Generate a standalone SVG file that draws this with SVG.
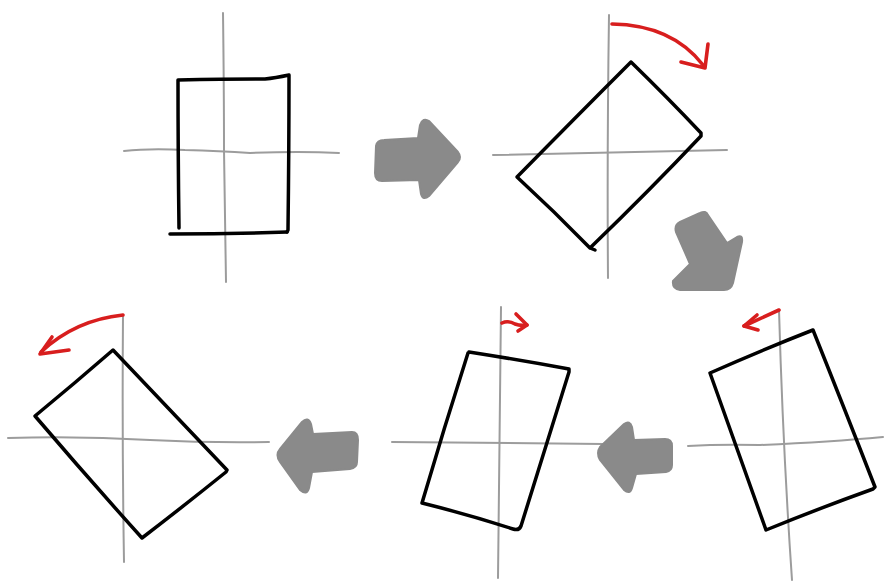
<svg xmlns="http://www.w3.org/2000/svg" width="885" height="581" viewBox="0 0 885 581">
<style>
.axis{fill:none;stroke:#9c9c9c;stroke-width:2;stroke-linecap:round;stroke-linejoin:round}
.box{fill:none;stroke:#000;stroke-width:3.5;stroke-linecap:round;stroke-linejoin:round}
.rot{fill:none;stroke:#d81e1e;stroke-width:3.6;stroke-linecap:round;stroke-linejoin:round}
.step{fill:#8a8a8a;stroke:#8a8a8a;stroke-width:2;stroke-linejoin:round}
</style>
<rect width="885" height="581" fill="#fff"/>

<g id="panel1">
<path class="axis" d="M223,13 Q224,90 224,150 Q225,220 226,282"/>
<path class="axis" d="M124,151 Q150,148 185,150 Q220,151 250,153 Q300,151 339,153"/>
<path class="box" d="M179,228 Q178,150 178,80 Q230,79 265,79 Q275,78 289,75 Q289,150 288,230 L287,232"/>
<path class="box" d="M170,234 Q230,234 287,232"/>
</g>

<g id="panel2">
<path class="axis" d="M609,15 Q607,150 608,278"/>
<path class="axis" d="M493,155 Q610,152 727,150"/>
<path class="box" d="M631,62 Q668,98 701,133 L701,136 Q650,190 590,248 L595,250 M590,248 Q555,212 517,177 Q575,118 631,62"/>
<path class="rot" d="M612,24 Q672,25 703,65"/>
<path class="rot" d="M681,62 L705,68 L708,44"/>
</g>

<g id="panel3">
<path class="axis" d="M779,310 Q783,450 792,580"/>
<path class="axis" d="M688,446 Q720,444 760,445 Q830,442 883,437"/>
<path class="box" d="M710,373 Q762,350 813,330 Q845,410 875,487 L873,489 Q820,508 766,530 Q738,452 710,373 Z"/>
<path class="rot" d="M779,310 L744,326"/>
<path class="rot" d="M757,315 L744,326 L758,330"/>
</g>

<g id="panel4">
<path class="axis" d="M501,307 Q499,440 498,578"/>
<path class="axis" d="M392,442 Q500,443 603,444"/>
<path class="box" d="M469,352 Q520,360 569,369 L569,372 Q545,450 521,526 Q519,531 513,529 Q470,515 422,503 Q444,428 468,353"/>
<path class="rot" d="M502,323 Q508,320 515,324 Q520,326 527,325"/>
<path class="rot" d="M516,314 L527,325 L518,331"/>
</g>

<g id="panel5">
<path class="axis" d="M123,315 Q122,440 124,562"/>
<path class="axis" d="M8,438 Q80,436 150,440 Q210,443 269,442"/>
<path class="box" d="M113,350 Q75,383 35,416 Q88,478 142,538 Q185,505 226,472 L227,470 Q170,410 113,350 Z"/>
<path class="rot" d="M123,315 Q75,320 41,352"/>
<path class="rot" d="M69,350 L40,354 L52,337"/>
</g>

<g id="steps">
<path id="step1" class="step" d="M376,146 Q377,140 384,140 L418,138 L420,125 Q423,117 429,121 L458,152 Q462,157 458,162 L429,196 Q423,201 421,194 L419,180 L382,181 Q375,181 375,173 Z"/>
<path id="step2" class="step" d="M680,222 L700,213 Q706,210 708,215 L727,243 L737,237 Q743,234 742,242 L733,283 Q731,290 724,290 L680,290 Q672,289 673,281 L677,277 L690,264 L676,232 Q674,225 680,222 Z"/>
<path id="step3" class="step" d="M600,447 L624,424 Q630,420 632,427 L634,440 L665,439 Q672,439 672,446 L672,465 Q672,471 666,472 L636,474 L632,488 Q630,495 624,490 L600,460 Q596,453 600,447 Z"/>
<path id="step4" class="step" d="M280,449 L302,422 Q308,416 311,424 L313,434 L352,432 Q358,432 358,440 L357,462 Q357,468 350,469 L312,472 L309,488 Q307,496 300,490 L280,462 Q275,455 280,449 Z"/>
</g>
</svg>
